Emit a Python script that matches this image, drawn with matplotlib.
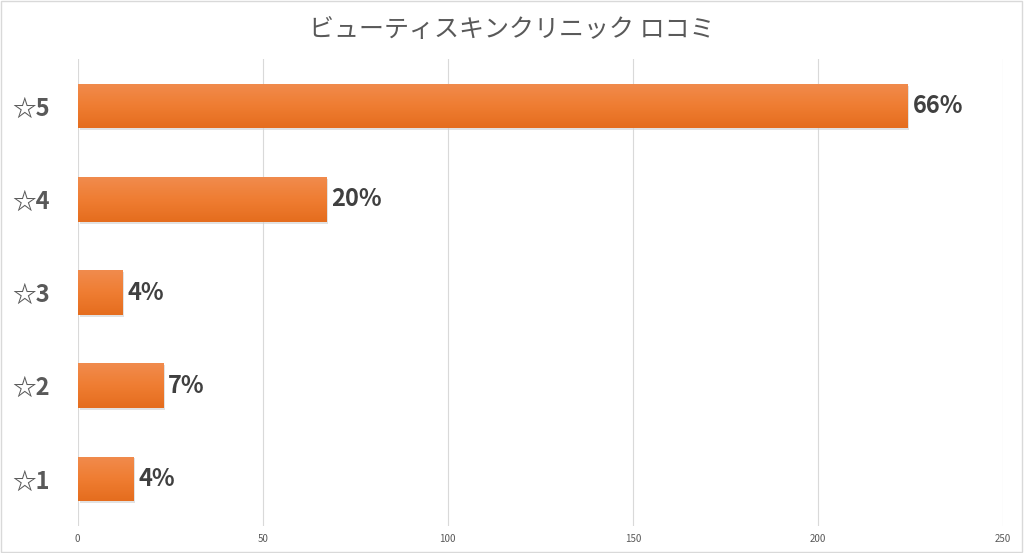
import numpy as np
import matplotlib
matplotlib.use("Agg")
import matplotlib.pyplot as plt
from matplotlib.colors import LinearSegmentedColormap
from matplotlib.patches import Rectangle

plt.rcParams['font.family'] = ['Noto Sans CJK JP', 'DejaVu Sans']

# data
categories = ["☆1", "☆2", "☆3", "☆4", "☆5"]
counts = [15, 23, 12, 67, 224]
pct_labels = ["4%", "7%", "4%", "20%", "66%"]
x_ticks = [0, 50, 100, 150, 200, 250]
title = "ビューティスキンクリニック ロコミ"

fig = plt.figure(figsize=(10.24, 5.53), dpi=100)
ax = fig.add_axes([0.0757, 0.0495, 0.904, 0.843])

# bar gradient: lighter at top, darker at bottom
grad = LinearSegmentedColormap.from_list("bar", ["#e56d1e", "#ef7d32", "#f18b4d"])
y = np.arange(len(categories))
bars = ax.barh(y, counts, height=0.48, color="#ed7d31", zorder=2)
for b in bars:
    x0, y0 = b.get_x(), b.get_y()
    w, h = b.get_width(), b.get_height()
    # soft shadow
    ax.add_patch(Rectangle((x0 + 0.6, y0 - 0.02), w, h, color="#cfcfcf",
                           alpha=0.6, zorder=1.5, lw=0))
    img = ax.imshow(np.linspace(0, 1, 64).reshape(-1, 1), cmap=grad,
                    extent=(x0, x0 + w, y0, y0 + h), origin="lower",
                    aspect="auto", zorder=2.5)
    img.set_clip_path(b)

for yi, c, lab in zip(y, counts, pct_labels):
    ax.text(c + 1.5, yi, lab, va="center", ha="left", fontsize=17,
            fontweight="bold", color="#404040")

ax.set_xlim(0, 250)
ax.set_ylim(-0.5, len(categories) - 0.5)
ax.set_xticks(x_ticks)
ax.set_yticks(y)
ax.set_yticklabels(categories, fontsize=17, fontweight="bold", color="#595959")
ax.tick_params(axis="x", labelsize=7, colors="#595959", length=0, pad=6)
ax.tick_params(axis="y", length=0, pad=20)
ax.grid(axis="x", color="#d9d9d9", lw=0.8, zorder=0)
ax.set_axisbelow(True)
for s in ax.spines.values():
    s.set_visible(False)

fig.text(0.5, 0.945, title, ha="center", va="center", fontsize=18,
         color="#595959")

# outer chart frame
fig.add_artist(Rectangle((0.001, 0.002), 0.997, 0.996, transform=fig.transFigure,
                         fill=False, edgecolor="#d9d9d9", lw=1))

fig.savefig("out.png", dpi=100)
